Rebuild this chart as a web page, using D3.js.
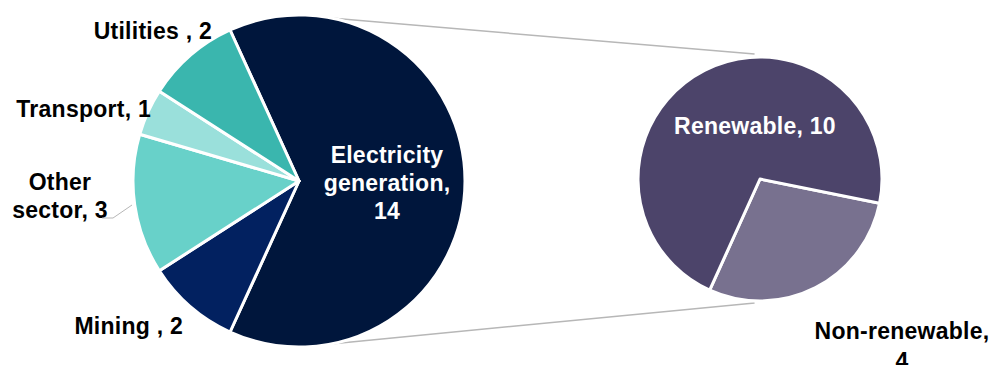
<!DOCTYPE html>
<html>
<head>
<meta charset="utf-8">
<script src="https://cdn.jsdelivr.net/npm/d3@7"></script>
<style>
  html, body { margin: 0; padding: 0; background: #ffffff; }
  svg { display: block; }
  text { font-family: "Liberation Sans", Arial, sans-serif; font-weight: bold; letter-spacing: 0.25px; }
</style>
</head>
<body>
<svg id="chart" width="992" height="365"></svg>
<script>
// ---- Data ----
const mainCategories = ["Electricity generation", "Mining ", "Other sector", "Transport", "Utilities "];
const mainValues = [14, 2, 3, 1, 2];
const mainColors = ["#00163c", "#022160", "#68d1c9", "#9ae0db", "#3ab6ae"];

const subCategories = ["Non-renewable", "Renewable"];
const subValues = [4, 10];
const subColors = ["#78718f", "#4c446a"];

// ---- Layout ----
const svg = d3.select("#chart");

const main = { cx: 299, cy: 181, r: 166 };
const sub = { cx: 760, cy: 179, r: 122 };

const deg = Math.PI / 180;
const total = d3.sum(mainValues);
const splitShare = mainValues[0] / total;
// combined slice centred pointing right (3 o'clock)
const mainStart = Math.PI / 2 - splitShare * Math.PI;

const mainPie = d3.pie().sort(null).value(d => d.value)
  .startAngle(mainStart).endAngle(mainStart + 2 * Math.PI);
const mainData = mainPie(mainCategories.map((c, i) => ({ name: c, value: mainValues[i], color: mainColors[i] })));

const subStart = 101.5 * deg;
const subPie = d3.pie().sort(null).value(d => d.value)
  .startAngle(subStart).endAngle(subStart + 2 * Math.PI);
const subData = subPie(subCategories.map((c, i) => ({ name: c, value: subValues[i], color: subColors[i] })));

// ---- Connector lines ----
function pt(c, a, r) { return [c.cx + r * Math.sin(a), c.cy - r * Math.cos(a)]; }
const conn = svg.append("g").attr("stroke", "#b7b7b7").attr("stroke-width", 1.5).attr("fill", "none");
const lt = pt(main, 11 * deg, main.r), lb = pt(main, 169 * deg, main.r);
const rt = pt(sub, -2.5 * deg, sub.r + 3), rb = pt(sub, 182.5 * deg, sub.r + 2);
conn.append("line").attr("x1", lt[0]).attr("y1", lt[1]).attr("x2", rt[0]).attr("y2", rt[1]);
conn.append("line").attr("x1", lb[0]).attr("y1", lb[1]).attr("x2", rb[0]).attr("y2", rb[1]);

// ---- Main pie ----
const arcMain = d3.arc().innerRadius(0).outerRadius(main.r);
svg.append("g").attr("transform", `translate(${main.cx},${main.cy})`)
  .selectAll("path").data(mainData).join("path")
  .attr("d", arcMain)
  .attr("fill", d => d.data.color)
  .attr("stroke", "#ffffff").attr("stroke-width", 3).attr("stroke-linejoin", "round");

// ---- Sub pie ----
const arcSub = d3.arc().innerRadius(0).outerRadius(sub.r);
svg.append("g").attr("transform", `translate(${sub.cx},${sub.cy})`)
  .selectAll("path").data(subData).join("path")
  .attr("d", arcSub)
  .attr("fill", d => d.data.color)
  .attr("stroke", "#ffffff").attr("stroke-width", 3).attr("stroke-linejoin", "round");

// ---- Labels ----
const FS = 23;
function label(lines, x, y, anchor, color, lh) {
  const t = svg.append("text").attr("x", x).attr("y", y)
    .attr("text-anchor", anchor).attr("fill", color).attr("font-size", FS);
  lines.forEach((l, i) => t.append("tspan").attr("x", x).attr("dy", i === 0 ? 0 : (lh || 28)).text(l));
}
label([`${mainCategories[0].split(" ")[0]}`, `${mainCategories[0].split(" ")[1]},`, `${mainValues[0]}`], 387, 163, "middle", "#ffffff");
label([`${mainCategories[1]}, ${mainValues[1]}`], 183, 334, "end", "#000000");
label(["Other", `sector, ${mainValues[2]}`], 60, 190, "middle", "#000000");
label([`${mainCategories[3]}, ${mainValues[3]}`], 151, 117, "end", "#000000");
label([`${mainCategories[4]}, ${mainValues[4]}`], 212, 39, "end", "#000000");
label([`${subCategories[1]}, ${subValues[1]}`], 755, 134, "middle", "#ffffff");
label([`${subCategories[0]},`, `${subValues[0]}`], 902, 339, "middle", "#000000", 30);

// leader line for "Other sector"
svg.append("polyline")
  .attr("points", "102,218 113,218 132,205")
  .attr("fill", "none").attr("stroke", "#b7b7b7").attr("stroke-width", 1);
</script>
</body>
</html>
